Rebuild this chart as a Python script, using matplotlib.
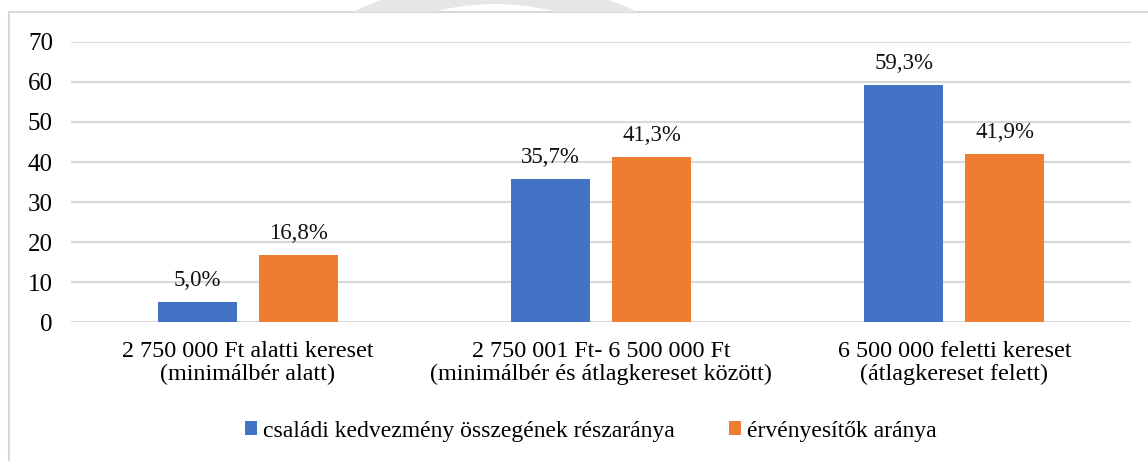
import matplotlib.pyplot as plt
import numpy as np
from matplotlib.patches import Rectangle, Annulus

# Adatok
kategoriak = ["2 750 000 Ft alatti kereset\n(minimálbér alatt)",
              "2 750 001 Ft- 6 500 000 Ft\n(minimálbér és átlagkereset között)",
              "6 500 000 feletti kereset\n(átlagkereset felett)"]
kedvezmeny = [5.0, 35.7, 59.3]
ervenyesitok = [16.8, 41.3, 41.9]
sorozatok = ["családi kedvezmény összegének részaránya", "érvényesítők aránya"]
yticks = [0, 10, 20, 30, 40, 50, 60, 70]

plt.rcParams['font.family'] = ['Liberation Serif', 'DejaVu Serif']

W, H = 1148, 461
fig = plt.figure(figsize=(W / 100, H / 100), dpi=100)
ax = fig.add_axes([71/W, 1 - 322/H, 1060/W, 280/H])

x = np.arange(len(kategoriak))
w = 0.224
off = 0.143
b1 = ax.bar(x - off, kedvezmeny, w, color='#4472c4', label=sorozatok[0], zorder=3)
b2 = ax.bar(x + off, ervenyesitok, w, color='#ed7d31', label=sorozatok[1], zorder=3)

for bars, vals in ((b1, kedvezmeny), (b2, ervenyesitok)):
    for bar, v in zip(bars, vals):
        ax.annotate(f"{v:.1f}%".replace('.', ','),
                    (bar.get_x() + bar.get_width() / 2, v),
                    xytext=(0, 8), textcoords='offset points',
                    ha='center', va='bottom', fontsize=16.5, color='#111111')

ax.set_xlim(-0.5, 2.5)
ax.set_ylim(0, 70)
ax.set_yticks(yticks)
ax.set_xticks(x)
ax.set_xticklabels(kategoriak, fontsize=17.4, linespacing=1.07)
ax.tick_params(axis='y', labelsize=18, length=0, pad=13)
ax.tick_params(axis='x', length=0, pad=14)
ax.grid(axis='y', color='#d9d9d9', linewidth=1.5, zorder=0)
for s in ax.spines.values():
    s.set_visible(False)

fig.legend(handles=[b1, b2], labels=sorozatok, loc='center', bbox_to_anchor=(591/W, 1 - 431/H),
           ncol=2, frameon=False, fontsize=17, handlelength=0.5, handleheight=0.5,
           handletextpad=0.25, columnspacing=2.3)

# keret es halvany arnyek felul
fig.patches.append(Rectangle((9/W, -0.05), 1.2, 1.05 - 12/H, transform=fig.transFigure,
                             fill=False, edgecolor='#d9d9d9', linewidth=1.5))
ring = Annulus((495/W, 1 - 314/H), (334/W, 334/H), 24/H, transform=fig.transFigure,
               facecolor='#e6e6e6', edgecolor='none')
clip = Rectangle((0, 1 - 12/H), 1, 12/H, transform=fig.transFigure)
ring.set_clip_path(clip)
fig.patches.append(ring)

fig.savefig('out.png', dpi=100)
